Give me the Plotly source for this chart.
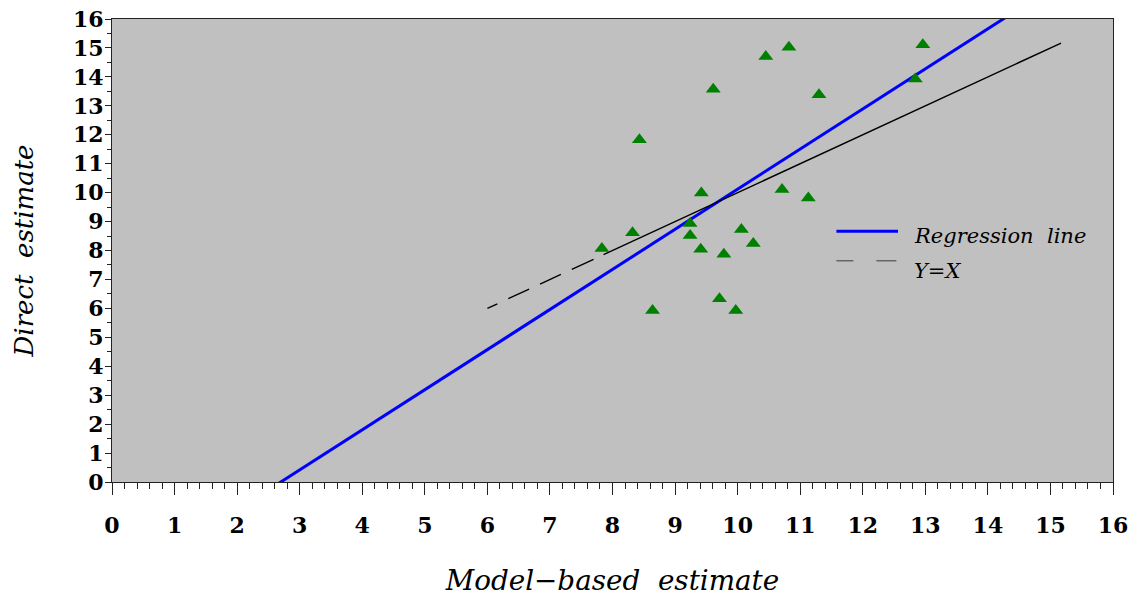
import numpy as np
import plotly.graph_objects as go

# ---- data ----
model_based = [7.83, 8.32, 8.43, 8.64, 9.24, 9.24, 9.42, 9.41, 9.61, 9.71, 9.78,
               9.97, 10.06, 10.25, 10.45, 10.71, 10.82, 11.13, 11.30, 12.84, 12.96]
direct = [8.07, 8.61, 11.83, 5.93, 8.93, 8.52, 9.99, 8.04, 13.57, 6.33, 7.87,
          5.93, 8.73, 8.24, 14.70, 10.11, 15.02, 9.81, 13.38, 13.93, 15.11]
identity_x = [6.0, 15.17]
axis_range = [0, 16]
x_title = "Model\u2212based  estimate"
y_title = "Direct  estimate"
legend_labels = ["Regression  line", "Y=X"]

# regression of direct on model-based estimate
slope, intercept = np.polyfit(model_based, direct, 1)
reg_x = np.array(axis_range, dtype=float)
reg_y = intercept + slope * reg_x

W, H = 1140, 597
PLOT_L, PLOT_R, PLOT_T, PLOT_B = 112.3, 1113.3, 18.7, 482.3   # pixels
ML, MT, MR, MB = PLOT_L, PLOT_T, W - PLOT_R, H - PLOT_B
PW, PH = PLOT_R - PLOT_L, PLOT_B - PLOT_T

def px_x(p):
    return (p - PLOT_L) / PW

def px_y(p):
    return (PLOT_B - p) / PH

FONT = "DejaVu Serif"

fig = go.Figure()
fig.add_trace(go.Scatter(
    x=reg_x, y=reg_y, mode="lines", name=legend_labels[0],
    line=dict(color="#0000FF", width=3), showlegend=False, hoverinfo="skip"))
fig.add_trace(go.Scatter(
    x=identity_x, y=identity_x, mode="lines", name=legend_labels[1],
    line=dict(color="#000000", width=1.4,
              dash="11px,12px,23px,12px,23px,12px,24px,11px,3000px"),
    showlegend=False, hoverinfo="skip"))
fig.add_trace(go.Scatter(
    x=model_based, y=direct, mode="markers", name="Areas",
    marker=dict(symbol="triangle-up", size=13, color="#008000", line=dict(width=0)),
    showlegend=False))

# hand-drawn legend (matches the reference's long sample lines)
fig.add_shape(type="line", xref="paper", yref="paper",
              x0=px_x(836.7), x1=px_x(898.3), y0=px_y(231.3), y1=px_y(231.3),
              line=dict(color="#0000FF", width=3))
fig.add_shape(type="line", xref="paper", yref="paper",
              x0=px_x(836.7), x1=px_x(896.7), y0=px_y(260.7), y1=px_y(260.7),
              line=dict(color="#666666", width=1.5, dash="17px,23px,20px"))
fig.add_annotation(xref="paper", yref="paper", x=px_x(912), y=px_y(236),
                   xanchor="left", yanchor="middle", showarrow=False,
                   text=legend_labels[0],
                   font=dict(family=FONT, size=21, style="italic", color="#000"))
fig.add_annotation(xref="paper", yref="paper", x=px_x(912), y=px_y(271),
                   xanchor="left", yanchor="middle", showarrow=False,
                   text=legend_labels[1],
                   font=dict(family=FONT, size=21, style="italic", color="#000"))

fig.update_layout(
    width=W, height=H,
    margin=dict(l=ML, r=MR, t=MT, b=MB, autoexpand=False),
    paper_bgcolor="white", plot_bgcolor="#C0C0C0",
    font=dict(family=FONT, color="#000"),
    showlegend=False,
)
fig.update_xaxes(
    range=axis_range, dtick=1, tick0=0, showgrid=False, zeroline=False,
    showline=True, linecolor="#222", linewidth=1, mirror=True,
    ticks="outside", ticklen=12, tickwidth=1, tickcolor="#222",
    minor=dict(ticks="outside", ticklen=6, dtick=0.2, tick0=0, tickcolor="#222", showgrid=False),
    tickfont=dict(family=FONT, size=22, weight="bold"),
    ticklabelstandoff=12, ticklabeloverflow="allow",
    title=dict(text=x_title, font=dict(family=FONT, size=27.8, style="italic"), standoff=40),
    automargin=False,
)
fig.update_yaxes(
    range=axis_range, dtick=1, tick0=0, showgrid=False, zeroline=False,
    showline=True, linecolor="#222", linewidth=1, mirror=True,
    ticks="outside", ticklen=6, tickwidth=1, tickcolor="#222",
    minor=dict(ticks="outside", ticklen=4, dtick=0.5, tick0=0, tickcolor="#222", showgrid=False),
    tickfont=dict(family=FONT, size=22, weight="bold"),
    ticklabelstandoff=-3, ticklabeloverflow="allow",
    title=dict(text=y_title, font=dict(family=FONT, size=26, style="italic"), standoff=31),
    automargin=False,
)

# remove the browser's default 8px body margin so the figure fills the window
fig.write_html("out.html", config={"displayModeBar": False},
               post_script="document.body.style.margin='0';")
